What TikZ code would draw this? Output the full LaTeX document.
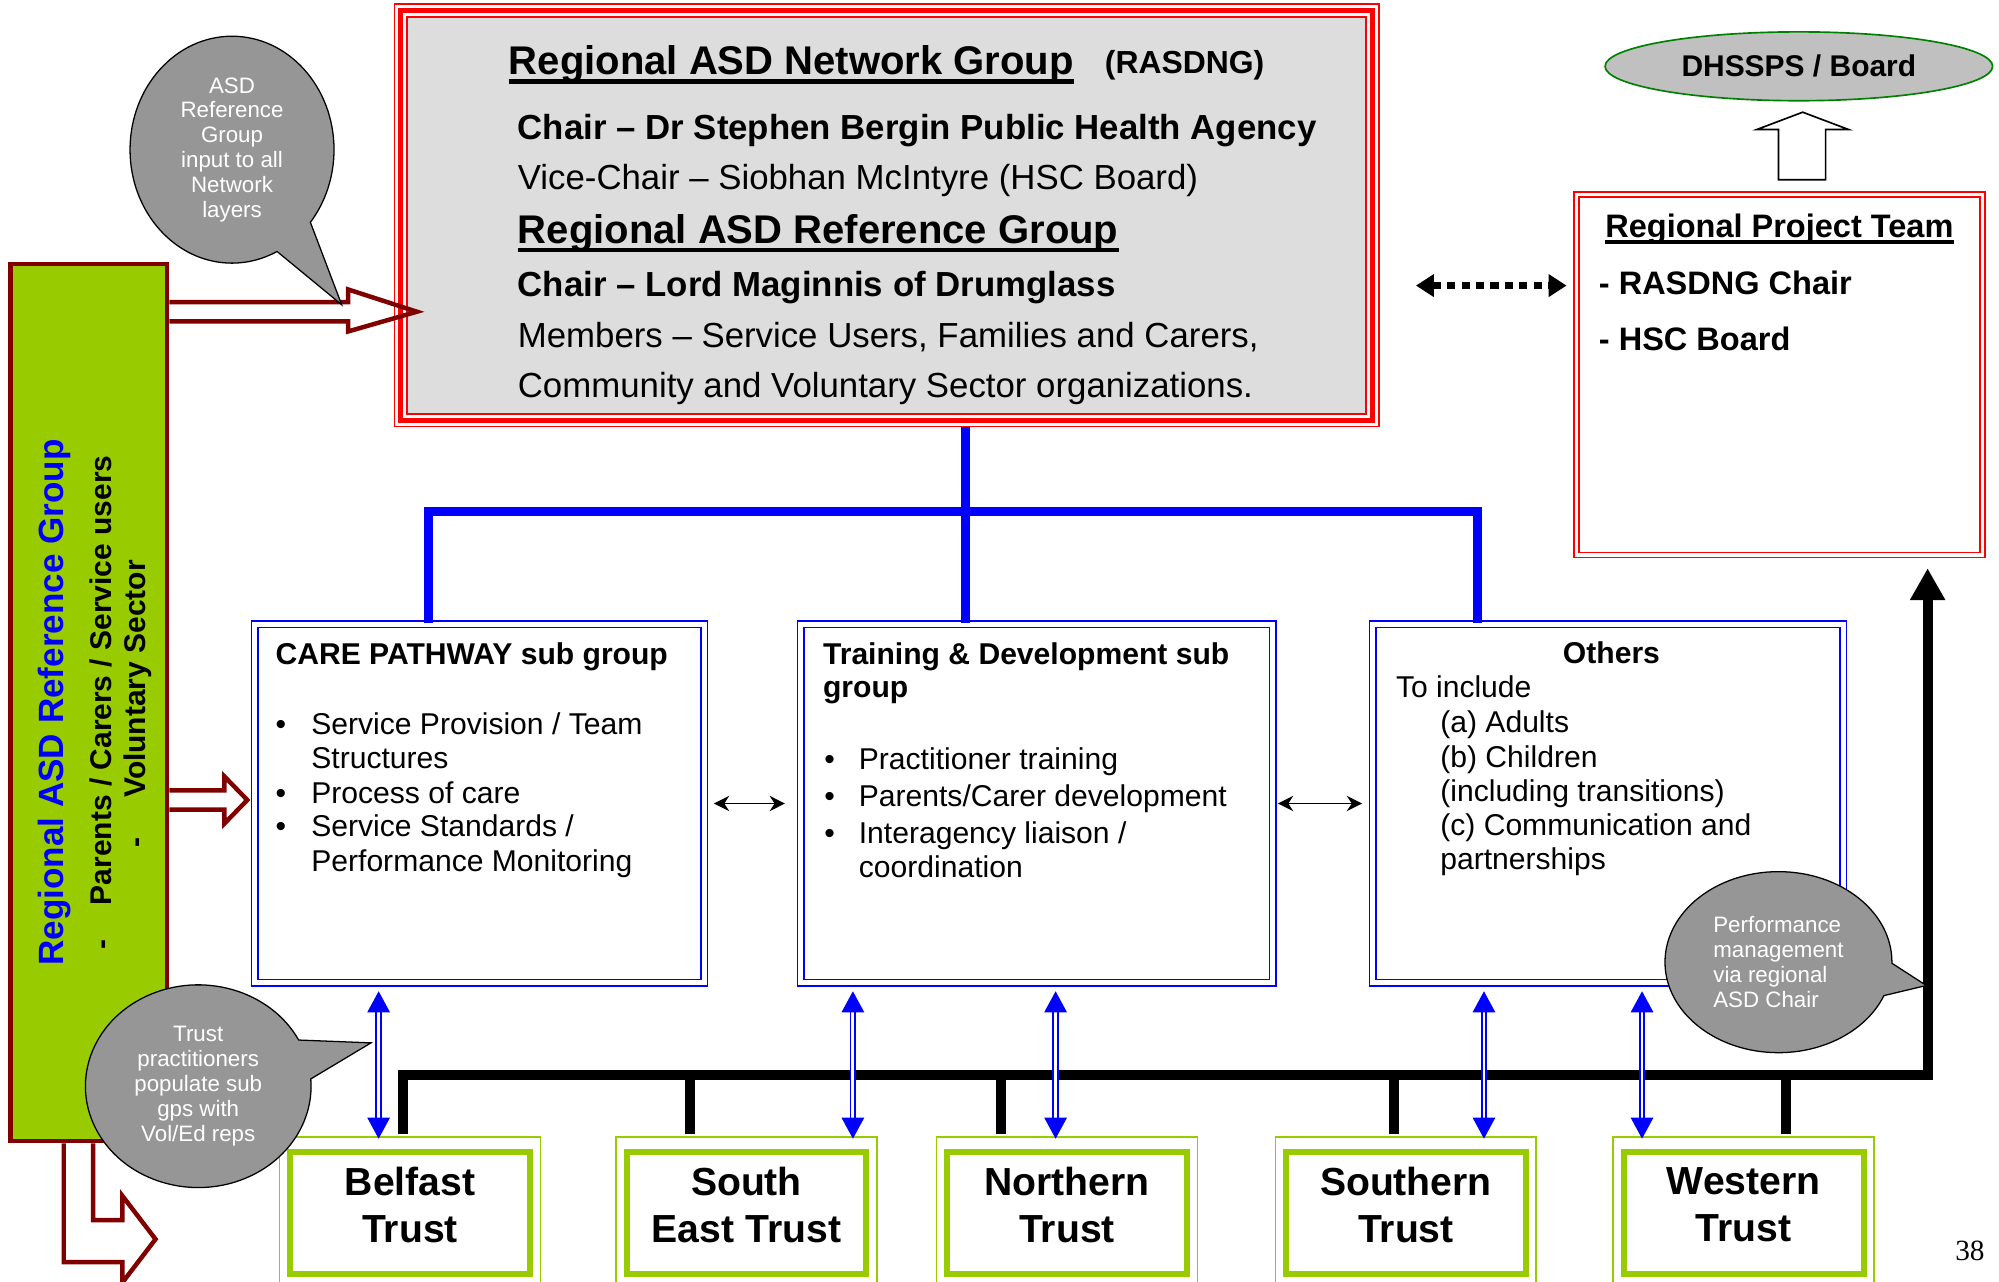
\documentclass[tikz,border=0pt]{standalone}
\usepackage{fontspec}
\setmainfont{Liberation Sans}
\newfontfamily\pagefont{Liberation Serif}
\usetikzlibrary{positioning, arrows.meta, shapes.geometric, shapes.callouts}
\definecolor{maroonred}{HTML}{800000}
\definecolor{bargreen}{HTML}{99CC00}
\definecolor{bubblegrey}{HTML}{969696}
\definecolor{panelgrey}{HTML}{DDDDDD}
\definecolor{ovalgrey}{HTML}{C0C0C0}
\definecolor{ovalgreen}{HTML}{008000}

\begin{document}
\begin{tikzpicture}
[
    x=1pt, y=-1pt,
    panel_box/.style={draw=red, line width=1.3pt, fill=panelgrey, minimum width=752pt, minimum height=311pt, inner sep=0pt},
    team_box/.style={draw=red, double, double distance=2.6pt, line width=1.4pt, minimum width=318.6pt, minimum height=282.6pt, inner sep=0pt},
    oval_node/.style={ellipse, draw=ovalgreen, line width=1.3pt, fill=ovalgrey, minimum width=304pt, minimum height=54pt, inner sep=0pt, font=\fontsize{23.5pt}{28pt}\selectfont\bfseries},
    sub_box/.style={draw=blue, double, double distance=3.7pt, line width=1.3pt, minimum height=281.2pt, inner sep=0pt},
    trust_box/.style={draw=bargreen, line width=4.6pt, fill=white, minimum width=188pt, minimum height=96pt, inner sep=0pt, align=center, font=\fontsize{30.7pt}{37pt}\selectfont\bfseries},
    trust_rim/.style={draw=bargreen, line width=1.3pt},
    bar_box/.style={draw=maroonred, line width=3.7pt, fill=bargreen, minimum width=123pt, minimum height=688pt, inner sep=0pt},
    title_text/.style={font=\fontsize{31.4pt}{36pt}\selectfont\bfseries, anchor=base west, inner sep=0pt},
    chair_text/.style={font=\fontsize{27.3pt}{33pt}\selectfont\bfseries, anchor=base west, inner sep=0pt},
    plain_text/.style={font=\fontsize{27.3pt}{33pt}\selectfont, anchor=base west, inner sep=0pt},
    team_text/.style={font=\fontsize{25.5pt}{30pt}\selectfont\bfseries, anchor=base west, inner sep=0pt},
    sub_head/.style={font=\fontsize{23.6pt}{28pt}\selectfont\bfseries, anchor=base west, inner sep=0pt},
    sub_text/.style={font=\fontsize{23.6pt}{28pt}\selectfont, anchor=base west, inner sep=0pt},
    bar_head/.style={rotate=90, text=blue, font=\fontsize{27.5pt}{33pt}\selectfont\bfseries, inner sep=0pt},
    bar_text/.style={rotate=90, font=\fontsize{23.5pt}{28pt}\selectfont\bfseries, inner sep=0pt},
    bubble_node/.style={ellipse callout, draw=black, line width=1pt, fill=bubblegrey, text=white, inner sep=0pt, align=center, font=\fontsize{17.5pt}{19.5pt}\selectfont},
    under_line/.style={draw=black, line width=3.5pt},
    blue_tree/.style={draw=blue, line width=7pt},
    black_bus/.style={draw=black, line width=7.8pt},
    blue_link/.style={draw=blue, double, double distance=2.2pt, line width=1.4pt, arrows={Triangle[length=16.5pt,width=17.5pt]-Triangle[length=16.5pt,width=17.5pt]}},
    small_link/.style={draw=black, line width=1.5pt, arrows={Stealth[length=12pt,width=12pt]-Stealth[length=12pt,width=12pt]}},
    dots_link/.style={draw=black, line width=5pt, dash pattern=on 6.5pt off 4.8pt, arrows={Triangle[length=14pt,width=17pt]-Triangle[length=14pt,width=17pt]}},
    hollow_arrow/.style={draw=maroonred, line width=3.5pt},
    open_arrow/.style={draw=black, line width=1.3pt, fill=white},
]
    \useasboundingbox (0,0) rectangle (1568,1005);

    \node[panel_box] (rasdng) at (695.5,169) {};
    \draw[red, line width=4pt] ([shift={(-4.5,-4.5)}]rasdng.north west) rectangle ([shift={(4.5,4.5)}]rasdng.south east);
    \draw[red, line width=1.3pt] ([shift={(-9.5,-9.5)}]rasdng.north west) rectangle ([shift={(9.5,9.5)}]rasdng.south east);
    \node[team_box] (team) at (1396,294) {};
    \node[oval_node] (dhss) at (1411,52) {DHSSPS / Board};
    \node[bar_box] (bar) at (69.5,551) {};
    \node[sub_box, minimum width=352.7pt] (care) at (376,630.25) {};
    \node[sub_box, minimum width=370.2pt] (train) at (813.25,630.25) {};
    \node[sub_box, minimum width=369.2pt] (others) at (1261.25,630.25) {};
    \node[trust_box] (belfast) at (321.6,951.6) {Belfast\\Trust\rule[-13.6pt]{0pt}{0pt}};
    \node[trust_box] (southeast) at (585.5,951.6) {South\\East Trust\rule[-13.6pt]{0pt}{0pt}};
    \node[trust_box] (northern) at (837,951.6) {Northern\\Trust\rule[-13.6pt]{0pt}{0pt}};
    \node[trust_box] (southern) at (1102.75,951.6) {Southern\\Trust\rule[-13.6pt]{0pt}{0pt}};
    \node[trust_box] (western) at (1367.75,951.6) {Western\\Trust\rule[-13.6pt]{0pt}{0pt}};
    \draw[trust_rim] ([shift={(-6,-9.4)}]belfast.north west) rectangle ([shift={(6,4.4)}]belfast.south east);
    \draw[trust_rim] ([shift={(-6,-9.4)}]southeast.north west) rectangle ([shift={(6,4.4)}]southeast.south east);
    \draw[trust_rim] ([shift={(-6,-9.4)}]northern.north west) rectangle ([shift={(6,4.4)}]northern.south east);
    \draw[trust_rim] ([shift={(-6,-9.4)}]southern.north west) rectangle ([shift={(6,4.4)}]southern.south east);
    \draw[trust_rim] ([shift={(-6,-9.4)}]western.north west) rectangle ([shift={(6,4.4)}]western.south east);

    \node[title_text] (net_title) at (399,58.8) {Regional ASD Network Group};
    \node[font=\fontsize{25pt}{30pt}\selectfont\bfseries, anchor=base west, inner sep=0pt] (net_abbr) at (866.5,58) {(RASDNG)};
    \node[chair_text] (net_chair) at (406,109.3) {Chair – Dr Stephen Bergin Public Health Agency};
    \node[plain_text] (net_vice) at (406,148.5) {Vice-Chair – Siobhan McIntyre (HSC Board)};
    \node[title_text] (ref_title) at (406,190.9) {Regional ASD Reference Group};
    \node[chair_text] (ref_chair) at (406,232.7) {Chair – Lord Maginnis of Drumglass};
    \node[plain_text] (ref_members) at (406,272.4) {Members – Service Users, Families and Carers,};
    \node[plain_text] (ref_sector) at (406,312) {Community and Voluntary Sector organizations.};
    \draw[under_line] ([yshift=-5pt]net_title.base west) -- ([yshift=-5pt]net_title.base east);
    \draw[under_line] ([yshift=-5pt]ref_title.base west) -- ([yshift=-5pt]ref_title.base east);

    \node[team_text] (team_title) at (1259,186.3) {Regional Project Team};
    \node[team_text] (team_chair) at (1254,230.8) {- RASDNG Chair};
    \node[team_text] (team_board) at (1254,275) {- HSC Board};
    \draw[under_line, line width=3pt] ([yshift=-3.5pt]team_title.base west) -- ([yshift=-3.5pt]team_title.base east);

    \node[bar_head] (bar_title) at (43,551) {Regional ASD Reference Group};
    \node[bar_text] (bar_users) at (79,551) {-\hspace{27pt}Parents / Carers / Service users};
    \node[bar_text] (bar_sector) at (108,552) {-\hspace{31pt}Voluntary Sector};

    \node[sub_head] (care_title) at (216,521) {CARE PATHWAY sub group};
    \node[sub_text] (care_a) at (216,576.4) {\makebox[28pt][l]{\textbullet}Service Provision / Team};
    \node[sub_text] (care_a2) at (244,603) {Structures};
    \node[sub_text] (care_b) at (216,630) {\makebox[28pt][l]{\textbullet}Process of care};
    \node[sub_text] (care_c) at (216,656.5) {\makebox[28pt][l]{\textbullet}Service Standards /};
    \node[sub_text] (care_c2) at (244,683.7) {Performance Monitoring};

    \node[sub_head] (train_title) at (645.4,521) {Training \& Development sub};
    \node[sub_head] (train_title2) at (645.4,547.4) {group};
    \node[sub_text] (train_a) at (646.5,603.6) {\makebox[27pt][l]{\textbullet}Practitioner training};
    \node[sub_text] (train_b) at (646.5,632.6) {\makebox[27pt][l]{\textbullet}Parents/Carer development};
    \node[sub_text] (train_c) at (646.5,661.6) {\makebox[27pt][l]{\textbullet}Interagency liaison /};
    \node[sub_text] (train_c2) at (673.5,688) {coordination};

    \node[sub_head, anchor=base] (others_title) at (1264,520.3) {Others};
    \node[sub_text] (others_intro) at (1094.8,547) {To include};
    \node[sub_text] (others_a) at (1129.6,574.7) {(a) Adults};
    \node[sub_text] (others_b) at (1129.6,601.9) {(b) Children};
    \node[sub_text] (others_b2) at (1129.6,628.8) {(including transitions)};
    \node[sub_text] (others_c) at (1129.6,655.7) {(c) Communication and};
    \node[sub_text] (others_c2) at (1129.6,682.4) {partnerships};

    \coordinate (hub) at (757,401);
    \coordinate (bus_y) at (0,843);
    \draw[blue_tree, shorten <=10pt] (rasdng.south -| hub) -- (hub);
    \draw[blue_tree] (care.north -| 336,0) |- (hub) -| (others.north -| 1159,0);
    \draw[blue_tree] (hub) -- (train.north -| hub);

    \draw[small_link, shorten <=7pt, shorten >=11.8pt] (care.east) -- (train.west);
    \draw[small_link, shorten <=3.4pt, shorten >=7.6pt] (train.east) -- (others.west);
    \draw[dots_link] ([shift={(38.5,55)}]rasdng.east) -- ([shift={(-7.2,-70)}]team.west);

    \draw[black_bus, shorten <=11.6pt, shorten >=9.7pt, arrows={-Triangle[length=25pt,width=26pt]}] (belfast.north -| 316,0) |- (1512,0 |- bus_y) -- (team.south -| 1512,0);
    \draw[black_bus, shorten <=11.6pt] (southeast.north -| 541,0) -- (541,0 |- bus_y);
    \draw[black_bus, shorten <=11.6pt] (northern.north -| 785,0) -- (785,0 |- bus_y);
    \draw[black_bus, shorten <=11.6pt] (southern.north -| 1093.5,0) -- (1093.5,0 |- bus_y);
    \draw[black_bus, shorten <=11.6pt] (western.north -| 1401,0) -- (1401,0 |- bus_y);

    \draw[blue_link, shorten <=6pt, shorten >=8.1pt] (care.south -| 297,0) -- (belfast.north -| 297,0);
    \draw[blue_link, shorten <=6pt, shorten >=8.1pt] (train.south -| 669,0) -- (southeast.north -| 669,0);
    \draw[blue_link, shorten <=6pt, shorten >=8.1pt] (train.south -| 828,0) -- (northern.north -| 828,0);
    \draw[blue_link, shorten <=6pt, shorten >=8.1pt] (others.south -| 1164,0) -- (southern.north -| 1164,0);
    \draw[blue_link, shorten <=6pt, shorten >=8.1pt] (others.south -| 1288,0) -- (western.north -| 1288,0);

    \draw[hollow_arrow] (bar.east |- 0,237) -- (273,237) -- (273,227) -- (327,244.5) -- (273,260) -- (273,252) -- (bar.east |- 0,252);
    \draw[hollow_arrow] (bar.east |- 0,620) -- (176,620) -- (176,609) -- (194,627.5) -- (176,646) -- (176,635) -- (bar.east |- 0,635);
    \draw[hollow_arrow] (bar.south -| 50,0) -- (50,990) -- (96,990) -- (96,1006) -- (122,972) -- (96,938) -- (96,957) -- (73,957) -- (bar.south -| 73,0);
    \draw[open_arrow] (1395,141) -- (1395,101.6) -- (1378,101.6) -- (1414,88) -- (1450,101.6) -- (1432,101.6) -- (1432,141) -- cycle;

    \node[bubble_node, minimum width=160pt, minimum height=178pt, callout pointer arc=24, callout absolute pointer={(268,239)}] (bubble_ref) at (182,117.4) {ASD\\Reference\\Group\\input to all\\Network\\layers};
    \node[bubble_node, minimum width=177pt, minimum height=159pt, callout pointer arc=23, callout absolute pointer={(291,818)}] (bubble_trust) at (155.5,852) {Trust\\practitioners\\populate sub\\gps with\\Vol/Ed reps};
    \node[bubble_node, align=left, minimum width=178pt, minimum height=142pt, callout pointer arc=21, callout absolute pointer={(1511,773)}] (bubble_perf) at (1395,754.7) {Performance\\management\\via regional\\ASD Chair};

    \node[font=\pagefont\fontsize{23pt}{26pt}\selectfont, anchor=base west, inner sep=0pt] (page_no) at (1533.5,988.5) {38};
\end{tikzpicture}
\end{document}
